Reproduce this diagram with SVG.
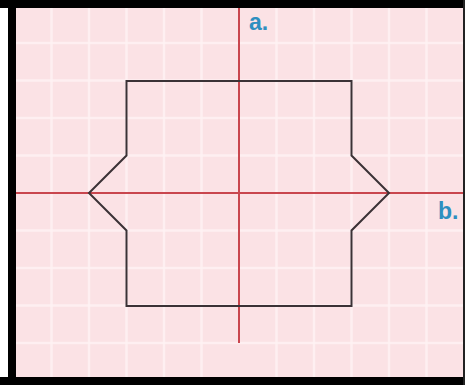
<svg xmlns="http://www.w3.org/2000/svg" width="465" height="385" viewBox="0 0 465 385">
<style>
.grid{stroke:#fff3f4;stroke-width:2.5;opacity:0.8}
.axis{stroke:#c9464e;stroke-width:2;fill:none}
.shape{stroke:#3b3236;stroke-width:2;fill:none;stroke-linejoin:miter}
.lbl{font-family:"Liberation Sans",Arial,sans-serif;font-weight:bold;font-size:23px;fill:#2e8fc0}
</style>
<rect x="0" y="0" width="465" height="385" fill="#ffffff"/>
<rect x="12" y="4" width="453" height="377" fill="#fbe2e5"/>
<g id="grid">
<line class="grid" x1="51.5" y1="8" x2="51.5" y2="377"/>
<line class="grid" x1="89" y1="8" x2="89" y2="377"/>
<line class="grid" x1="126.5" y1="8" x2="126.5" y2="377"/>
<line class="grid" x1="164" y1="8" x2="164" y2="377"/>
<line class="grid" x1="201.5" y1="8" x2="201.5" y2="377"/>
<line class="grid" x1="276.5" y1="8" x2="276.5" y2="377"/>
<line class="grid" x1="314" y1="8" x2="314" y2="377"/>
<line class="grid" x1="351.5" y1="8" x2="351.5" y2="377"/>
<line class="grid" x1="389" y1="8" x2="389" y2="377"/>
<line class="grid" x1="426.5" y1="8" x2="426.5" y2="377"/>
<line class="grid" x1="16" y1="43" x2="463" y2="43"/>
<line class="grid" x1="16" y1="80.5" x2="463" y2="80.5"/>
<line class="grid" x1="16" y1="118" x2="463" y2="118"/>
<line class="grid" x1="16" y1="155.5" x2="463" y2="155.5"/>
<line class="grid" x1="16" y1="230.5" x2="463" y2="230.5"/>
<line class="grid" x1="16" y1="268" x2="463" y2="268"/>
<line class="grid" x1="16" y1="305.5" x2="463" y2="305.5"/>
<line class="grid" x1="16" y1="343" x2="463" y2="343"/>
</g>
<g id="connectors">
<line class="axis" x1="239" y1="8" x2="239" y2="343"/>
<line class="axis" x1="16" y1="193" x2="463" y2="193"/>
</g>
<g id="shape">
<path class="shape" d="M126.5 81 H351.5 V155.5 L389 193 L351.5 230.5 V306 H126.5 V230.5 L89 193 L126.5 155.5 Z"/>
</g>
<g id="label-a"><text class="lbl" x="249" y="30">a.</text></g>
<g id="label-b"><text class="lbl" x="438" y="219">b.</text></g>
<g id="frame">
<rect x="0" y="0" width="465" height="8" fill="#000"/>
<rect x="8" y="0" width="8" height="385" fill="#000"/>
<rect x="0" y="377" width="465" height="8" fill="#000"/>
<rect x="463" y="0" width="2" height="385" fill="#222"/>
</g>
</svg>
